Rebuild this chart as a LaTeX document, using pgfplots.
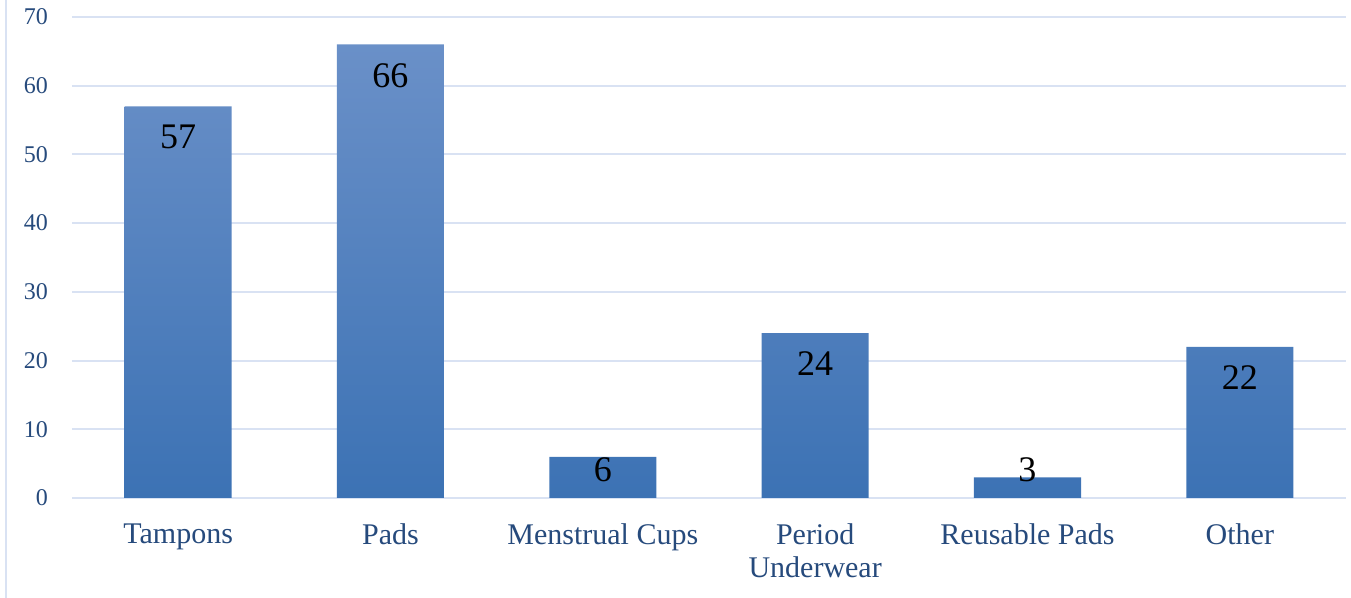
\documentclass[border=0pt]{standalone}
\usepackage{fontspec}
\setmainfont{Liberation Serif}
\usepackage{pgfplots}
\pgfplotsset{compat=1.18}
\definecolor{tickc}{RGB}{38,74,124}
\definecolor{gridc}{RGB}{217,226,243}
\definecolor{bartop}{RGB}{106,144,200}
\definecolor{barbot}{RGB}{60,114,180}
\begin{document}
\begin{tikzpicture}
\path[use as bounding box] (-36pt,-50pt) rectangle (639.5pt,249pt);
\draw[gridc, line width=1pt] (-33pt,-50pt) -- (-33pt,249pt);
\begin{axis}[at={(0,0)}, anchor=south west, scale only axis, width=637pt, height=240.5pt,
  ybar, bar width=53.5pt, xmin=-0.5, xmax=5.5, ymin=0, ymax=70, ytick={0,10,...,70},
  xtick=data, xticklabels={Tampons, Pads, Menstrual Cups, Period\\Underwear, Reusable Pads, Other},
  xticklabel style={align=center, font=\fontsize{15}{16.5}\selectfont, text=tickc, yshift=-9.5pt},
  yticklabel style={font=\fontsize{12}{14}\selectfont, text=tickc, xshift=-8.5pt},
  /pgf/number format/assume math mode=true,
  axis line style={draw=none}, major tick length=0pt, tick style={draw=none},
  ymajorgrids, grid style={gridc, line width=1pt},
  nodes near coords,
  visualization depends on={\thisrow{s} \as \lshift},
  every node near coord/.append style={text=black, font=\fontsize{18}{20}\selectfont, anchor=center, yshift=\lshift pt},
  clip=false]
\addplot[draw=none, top color=bartop, bottom color=barbot] table {
x y s
0 57 -15.5
1 66 -15.5
2 6 -6.5
3 24 -15.5
4 3 4
5 22 -15.5
};
\end{axis}
\end{tikzpicture}
\end{document}
